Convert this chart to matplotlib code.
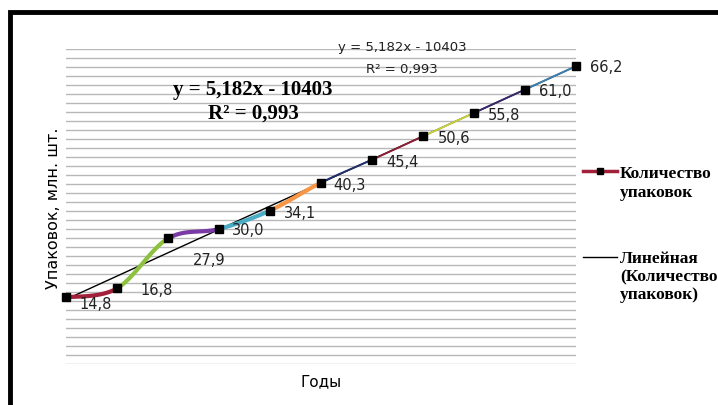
import numpy as np
import matplotlib.pyplot as plt
from matplotlib.patches import Rectangle
from matplotlib.lines import Line2D

years = list(range(2010, 2021))
packs = [14.8, 16.8, 27.9, 30.0, 34.1, 40.3, 45.4, 50.6, 55.8, 61.0, 66.2]
labels = ["14,8", "16,8", "27,9", "30,0", "34,1", "40,3", "45,4", "50,6", "55,8", "61,0", "66,2"]

# segment colours (Excel "vary colours by point")
seg_colors = ["#a3203a", "#8dc13f", "#7a3aa6", "#4bacc6", "#f79646",
              "#1f2f6b", "#8b1f35", "#c7cf3a", "#3a2a6b", "#3f7fae"]
seg_widths = [3, 3, 3, 3, 3, 1.4, 1.4, 1.4, 1.4, 1.4]
# label offsets in points
lab_off = [(10, -4.5), (17, -0.5), (18, -15), (9, -0.5), (10, -1.5), (9, -1.5),
           (10, -1), (11, -1), (10, -1), (10, -0.5), (10, -0.5)]


def catmull(x, y, i, n=30):
    # excel-like smoothing between point i and i+1
    p0 = np.array([x[max(i - 1, 0)], y[max(i - 1, 0)]], float)
    p1 = np.array([x[i], y[i]], float)
    p2 = np.array([x[i + 1], y[i + 1]], float)
    p3 = np.array([x[min(i + 2, len(x) - 1)], y[min(i + 2, len(x) - 1)]], float)
    c1 = p1 + (p2 - p0) / 6
    c2 = p2 - (p3 - p1) / 6
    t = np.linspace(0, 1, n)[:, None]
    pts = (1 - t) ** 3 * p1 + 3 * (1 - t) ** 2 * t * c1 + 3 * (1 - t) * t ** 2 * c2 + t ** 3 * p2
    return pts[:, 0], pts[:, 1]


fig = plt.figure(figsize=(7.18, 4.06), dpi=100)
ax = fig.add_axes([66 / 718, 41 / 406, 510 / 718, 315 / 406])

ax.set_xlim(years[0], years[-1])
ax.set_ylim(0, 70)
for v in np.arange(0, 71, 2):
    ax.axhline(v, color="#b8b8b8", lw=1, zorder=0)

# trend line
k, b = np.polyfit(years, packs, 1)
xt = np.array([years[0], years[-1]])
ax.plot(xt, k * xt + b, color="black", lw=1, zorder=2)

for i in range(len(years) - 1):
    sx, sy = catmull(years, packs, i)
    ax.plot(sx, sy, color=seg_colors[i], lw=seg_widths[i], zorder=3,
            solid_capstyle="butt")

ax.plot(years, packs, "s", color="black", ms=5.5, zorder=4, clip_on=False)

for xv, yv, t, off in zip(years, packs, labels, lab_off):
    ax.annotate(t, (xv, yv), xytext=off, textcoords="offset points",
                fontsize=10.5, color="#222222", va="center", ha="left",
                annotation_clip=False)

ax.text(0.367, 0.836, "y = 5,182x - 10403\nR² = 0,993", transform=ax.transAxes,
        ha="center", va="center", fontsize=15, fontweight="bold",
        family="Liberation Serif", linespacing=1.2)
ax.text(0.66, 1.0095, "y = 5,182x - 10403", transform=ax.transAxes,
        ha="center", va="center", fontsize=9.5, color="#222222")
ax.text(0.659, 0.937, "R² = 0,993", transform=ax.transAxes,
        ha="center", va="center", fontsize=9.5, color="#222222")

for s in ax.spines.values():
    s.set_visible(False)
ax.set_xticks([])
ax.set_yticks([])

fig.text(54 / 718, 1 - 208 / 406, "Упаковок, млн. шт.", rotation=90,
         ha="center", va="center", fontsize=11.5)
fig.text(321 / 718, 1 - 382 / 406, "Годы", ha="center", va="center", fontsize=11)

# legend drawn by hand
leg1 = Line2D([583 / 718, 617 / 718], [1 - 172 / 406] * 2, color="#a3203a", lw=2.5,
              transform=fig.transFigure)
leg1m = Line2D([600 / 718], [1 - 172 / 406], marker="s", color="black", ms=5,
               transform=fig.transFigure)
leg2 = Line2D([583 / 718, 617 / 718], [1 - 258 / 406] * 2, color="black", lw=1,
              transform=fig.transFigure)
fig.add_artist(leg1)
fig.add_artist(leg1m)
fig.add_artist(leg2)
fig.text(620 / 718, 1 - 183.5 / 406, "Количество\nупаковок", ha="left", va="center",
         fontsize=12.5, fontweight="bold", family="Liberation Serif", linespacing=1.3)
fig.text(620 / 718, 1 - 277 / 406, "Линейная\n(Количество\nупаковок)", ha="left",
         va="center", fontsize=12.5, fontweight="bold", family="Liberation Serif",
         linespacing=1.15)

# frame of the chart area (goes off the right and bottom edge)
fig.add_artist(Rectangle((10 / 718, -0.1), 1.0, 1 - 13 / 406 + 0.1, fill=False,
                         lw=3.5, edgecolor="black", transform=fig.transFigure))

fig.savefig("out.png", dpi=100)
